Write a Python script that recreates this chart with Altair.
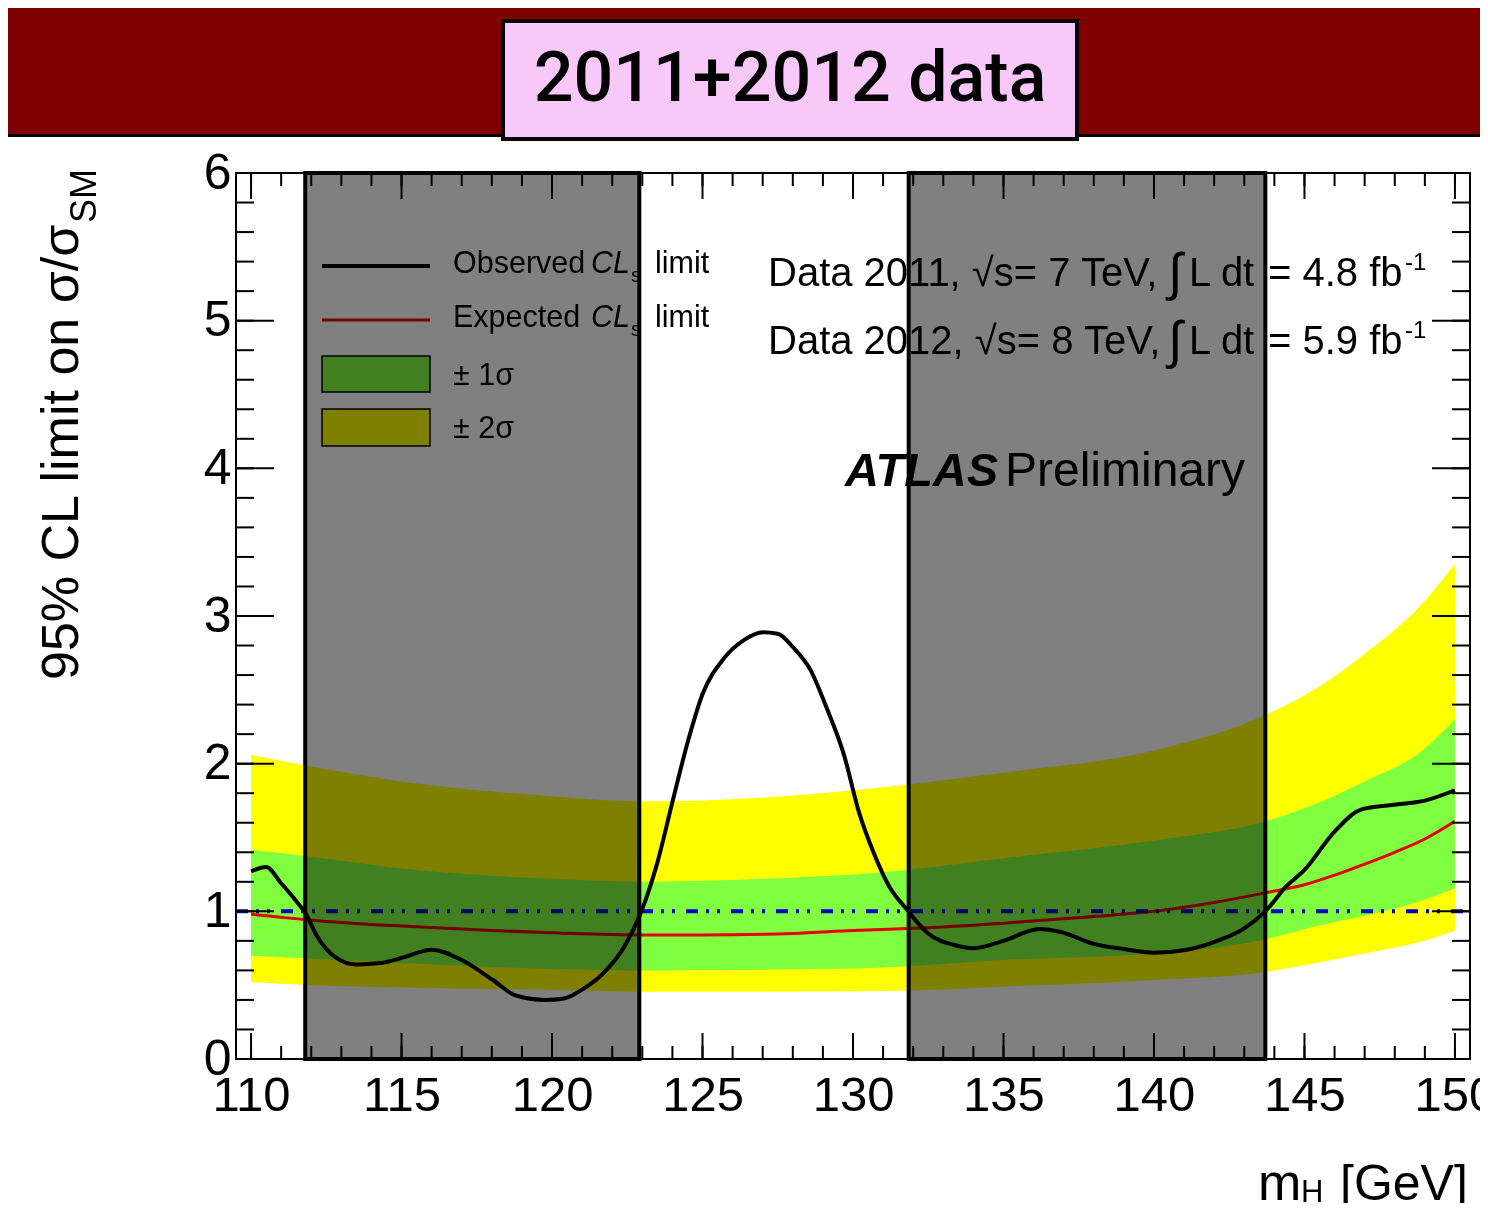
import altair as alt
import pandas as pd

# ---------------- data ----------------
mass_obs = [110, 110.5, 111, 111.5, 111.8, 112.2, 112.8, 113.5, 114.3, 115.1, 116, 117, 118,
            118.8, 119.8, 120.4, 121, 121.7, 122.4, 122.95, 123.5, 124, 124.5, 125, 125.7,
            126.4, 127, 127.5, 128, 128.6, 129.1, 129.7, 130.2, 130.7, 131.2, 131.8, 132.5,
            133.4, 134, 135, 136.2, 136.9, 138, 139, 140, 141.1, 142.1, 143, 143.7, 144.4,
            145, 146, 146.9, 147.9, 149, 150]
observed = [1.27, 1.30, 1.19, 1.07, 0.99, 0.83, 0.69, 0.64, 0.65, 0.69, 0.74, 0.67, 0.54,
            0.43, 0.40, 0.41, 0.47, 0.58, 0.76, 0.99, 1.33, 1.74, 2.14, 2.47, 2.71,
            2.84, 2.89, 2.88, 2.79, 2.63, 2.39, 2.06, 1.67, 1.39, 1.17, 1.01, 0.85,
            0.77, 0.75, 0.80, 0.88, 0.86, 0.78, 0.745, 0.72, 0.74, 0.80, 0.885, 1.0, 1.17,
            1.28, 1.54, 1.69, 1.72, 1.75, 1.82]

mass_exp = [110, 112, 115, 118, 120, 123, 125, 128, 130, 132, 135, 138, 140, 142, 143.7,
            145, 146, 147, 148, 149, 150]
expected = [0.98, 0.94, 0.90, 0.87, 0.855, 0.84, 0.84, 0.85, 0.87, 0.885, 0.92, 0.965, 1.0,
            1.06, 1.125, 1.18, 1.245, 1.32, 1.40, 1.49, 1.61]

mass_band = [110, 112, 115, 120, 123, 127, 131, 135, 140, 143.7, 145.4, 147.1, 148.8, 150]
band2_hi = [2.06, 1.98, 1.88, 1.78, 1.745, 1.77, 1.84, 1.94, 2.09, 2.33, 2.51, 2.76, 3.06, 3.35]
band2_lo = [0.52, 0.50, 0.485, 0.467, 0.456, 0.455, 0.46, 0.49, 0.535, 0.59, 0.65, 0.72, 0.79, 0.87]
band1_hi = [1.415, 1.37, 1.29, 1.22, 1.20, 1.22, 1.265, 1.36, 1.48, 1.61, 1.73, 1.89, 2.07, 2.30]
band1_lo = [0.70, 0.68, 0.65, 0.61, 0.60, 0.605, 0.62, 0.67, 0.716, 0.81, 0.90, 0.975, 1.065, 1.156]

excl_lo = [111.8, 131.85]
excl_hi = [122.9, 143.7]

x_labels = [110, 115, 120, 125, 130, 135, 140, 145, 150]
y_labels = [0, 1, 2, 3, 4, 5, 6]
x_minor = list(range(110, 151))
y_minor = [round(i * 0.2, 1) for i in range(31)]

# ---------------- layout ----------------
W, H = 1234, 886
X0, X1 = 109.5, 150.5
FONT = "Liberation Sans"

xs = alt.Scale(domain=[X0, X1], nice=False, zero=False)
ys = alt.Scale(domain=[0, 6], nice=False, zero=False)
xaxis = alt.Axis(values=x_labels, labelFontSize=49, labelFont=FONT, labelColor="black",
                 labelPadding=12, ticks=False, domain=False, grid=False, labelFlush=False,
                 labelOverlap=False, labelBound=False)
yaxis = alt.Axis(values=y_labels, labelFontSize=50, labelFont=FONT, labelColor="black",
                 labelPadding=5, ticks=False, domain=False, grid=False, labelFlush=False,
                 labelOverlap=False, labelBound=False)


def X(f):
    return alt.X(f, type="quantitative", scale=xs, axis=xaxis, title="")


def Y(f):
    return alt.Y(f, type="quantitative", scale=ys, axis=yaxis, title="")


band_df = pd.DataFrame({"m": mass_band, "lo2": band2_lo, "hi2": band2_hi,
                        "lo1": band1_lo, "hi1": band1_hi})
obs_df = pd.DataFrame({"m": mass_obs, "v": observed})
exp_df = pd.DataFrame({"m": mass_exp, "v": expected})
excl_df = pd.DataFrame({"a": excl_lo, "b": excl_hi})
one = pd.DataFrame({"k": [0]})

yellow = alt.Chart(band_df).mark_area(color="#ffff00", interpolate="monotone").encode(
    x=X("m"), y=Y("lo2"), y2="hi2")
green = alt.Chart(band_df).mark_area(color="#80ff40", interpolate="monotone").encode(
    x=X("m"), y=Y("lo1"), y2="hi1")
exp_line = alt.Chart(exp_df).mark_line(color="#e60000", strokeWidth=3, interpolate="monotone").encode(
    x=X("m"), y=Y("v"))
unity = alt.Chart(one).mark_rule(color="#0000cc", strokeWidth=4,
                                 strokeDash=[12, 8, 3, 8, 3, 11]).encode(
    y=alt.Y(datum=1, type="quantitative", scale=ys, axis=yaxis, title=""),
    x=alt.value(0), x2=alt.value(W))
obs_line = alt.Chart(obs_df).mark_line(color="black", strokeWidth=4, interpolate="monotone").encode(
    x=X("m"), y=Y("v"))

# inward ticks (ROOT style) on all four sides
xmaj = pd.DataFrame({"t": x_labels})
xmin = pd.DataFrame({"t": x_minor})
ymaj = pd.DataFrame({"t": y_labels})
ymin = pd.DataFrame({"t": y_minor})
tick_layers = []
for df, ln in [(xmaj, 26), (xmin, 13)]:
    tick_layers.append(alt.Chart(df).mark_rule(color="black", strokeWidth=2).encode(
        x=X("t"), y=alt.value(H), y2=alt.value(H - ln)))
    tick_layers.append(alt.Chart(df).mark_rule(color="black", strokeWidth=2).encode(
        x=X("t"), y=alt.value(0), y2=alt.value(ln)))
for df, ln in [(ymaj, 38), (ymin, 18)]:
    tick_layers.append(alt.Chart(df).mark_rule(color="black", strokeWidth=2).encode(
        y=Y("t"), x=alt.value(0), x2=alt.value(ln)))
    tick_layers.append(alt.Chart(df).mark_rule(color="black", strokeWidth=2).encode(
        y=Y("t"), x=alt.value(W), x2=alt.value(W - ln)))


def txt(s, x, y, size, align="left", style="normal", weight="normal", angle=0,
        font=FONT, baseline="alphabetic", color="black"):
    kw = dict(fontSize=size, font=font, align=align, baseline=baseline, color=color,
              fontStyle=style, fontWeight=weight)
    if angle:
        kw["angle"] = angle
    return alt.Chart(one).mark_text(**kw).encode(
        x=alt.value(x), y=alt.value(y), text=alt.value(s))


def hrule(x1, x2, y, color, w):
    return alt.Chart(one).mark_rule(color=color, strokeWidth=w).encode(
        x=alt.value(x1), x2=alt.value(x2), y=alt.value(y))


def box(x1, x2, y1, y2, fill, stroke="black", sw=1.5):
    return alt.Chart(one).mark_rect(fill=fill, stroke=stroke, strokeWidth=sw).encode(
        x=alt.value(x1), x2=alt.value(x2), y=alt.value(y1), y2=alt.value(y2))


# legend (under the grey overlay, as in the original)
legend = [
    hrule(86, 194, 93, "black", 4),
    hrule(86, 194, 147, "#e60000", 3),
    box(86, 194, 183, 219, "#80ff40"),
    box(86, 194, 236, 273, "#ffff00"),
    txt("Observed", 217, 100, 30.5),
    txt("CL", 355, 100, 30.5, style="italic"),
    txt("s", 395, 109, 20),
    txt("limit", 419, 100, 30.5),
    txt("Expected", 217, 154, 30.5),
    txt("CL", 355, 154, 30.5, style="italic"),
    txt("s", 395, 163, 20),
    txt("limit", 419, 154, 30.5),
    txt("\u00b1 1\u03c3", 217, 212, 30.5),
    txt("\u00b1 2\u03c3", 217, 265, 30.5),
]

grey = alt.Chart(excl_df).mark_rect(fill="#808080", blend="multiply", stroke="black",
                                    strokeWidth=4).encode(
    x=X("a"), x2="b",
    y=alt.Y(datum=0, type="quantitative", scale=ys, axis=yaxis, title=""),
    y2=alt.Y2(datum=6))

L1, L2 = 113, 181
annotations = [
    txt("Data 2011, \u221as= 7 TeV,", 532, L1, 40),
    txt("\u222b", 932, L1 + 4, 52),
    txt("L dt", 953, L1, 40),
    txt("= 4.8 fb", 1032, L1, 40),
    txt("-1", 1169, L1 - 16, 24),
    txt("Data 2012, \u221as= 8 TeV,", 532, L2, 40),
    txt("\u222b", 932, L2 + 4, 52),
    txt("L dt", 953, L2, 40),
    txt("= 5.9 fb", 1032, L2, 40),
    txt("-1", 1169, L2 - 16, 24),
    txt("ATLAS", 609, 313, 47, style="italic", weight="bold"),
    txt("Preliminary", 769, 313, 48),
    # axis titles
    txt("95% CL limit on \u03c3/\u03c3", -158, 507, 52, angle=270),
    txt("SM", -140, 50, 36, angle=270),
    txt("m", 1022, 1027, 52),
    txt("H", 1065, 1029, 31),
    txt("[GeV]", 1104, 1027, 50),
]

banner = [
    box(-228, 1244, -165, -39, "#800000", stroke="#800000", sw=0),
    hrule(-228, 1244, -37.5, "black", 3),
    box(267, 841, -152, -34, "#f8c8f8", stroke="black", sw=4),
    txt("2011+2012 data", 554, -72, 70, align="center", font="Roboto", weight=500),
]

chart = alt.layer(
    yellow, green, exp_line, unity, obs_line, *tick_layers, *legend, grey,
    *annotations, *banner
).properties(
    width=W, height=H,
    autosize=alt.AutoSizeParams(type="none"),
    padding={"left": 228, "top": 165, "right": 10, "bottom": 144},
    background="white",
).configure_view(stroke="black", strokeWidth=2)

chart.save("out.html", embed_options={"renderer": "svg", "actions": False})
